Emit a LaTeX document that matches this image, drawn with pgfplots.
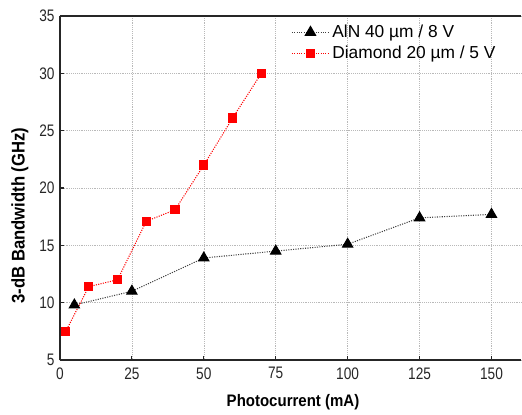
\documentclass[border=0pt]{standalone}
\usepackage{fontspec}
\setmainfont{Liberation Sans}
\usepackage{pgfplots}
\pgfplotsset{compat=1.18}

\begin{document}
\begin{tikzpicture}
  \begin{axis}[
    scale only axis,
    width=346pt, height=258pt,
    xmin=0, xmax=160.4, ymin=5, ymax=35,
    xtick={0,25,...,150}, ytick={5,10,...,35},
    axis y line=left,
    y axis line style={-},
    xtick pos=bottom, ytick pos=left,
    tick align=inside,
    major tick length=3pt,
    grid=major,
    grid style={densely dotted, gray!55},
    axis line style={line width=0.9pt, black!85},
    tick style={line width=0.8pt, black!85},
    /pgf/number format/assume math mode=true,
    ticklabel style={font=\fontsize{12.5}{14}\selectfont, text=black!85, xscale=0.82},
    xticklabel style={yshift=-2pt},
    yticklabel style={xshift=-1.5pt},
    xlabel={\textbf{Photocurrent (mA)}},
    ylabel={\textbf{3-dB Bandwidth (GHz)}},
    xlabel style={font=\fontsize{12.5}{14}\selectfont, xscale=0.9,
      at={(axis description cs:0.505,0)}, anchor=north, yshift=-22pt},
    ylabel style={font=\fontsize{12.5}{14}\selectfont, yscale=1.1,
      at={(axis description cs:-0.0867,0.42)}, anchor=center},
    legend style={draw=none, fill=none, at={(axis description cs:0.492,0.99)},
      anchor=north west, font=\fontsize{13}{15}\selectfont, row sep=1pt,
      /tikz/every even column/.append style={column sep=2pt}},
    legend cell align=left,
    legend image code/.code={%
      \draw[mark repeat=2, mark phase=2] plot coordinates {(0pt,0pt) (14pt,0pt) (28pt,0pt)};},
    extra description/.code={%
      \path (axis description cs:-0.13,-0.154) rectangle (axis description cs:1,1.0465);},
  ]
    \addplot[black!75, densely dotted, line width=0.8pt,
      mark=triangle*, mark size=4.4pt, mark options={solid, fill=black, draw=black}]
      coordinates {(5,9.8) (25,11) (50,13.9) (75,14.5) (100,15.1) (125,17.4) (150,17.7)};
    \addplot[red, densely dotted, line width=0.8pt,
      mark=square*, mark size=3.1pt, mark options={solid, fill=red, draw=red}]
      coordinates {(2,7.5) (10,11.4) (20,12) (30,17.1) (40,18.1) (50,22) (60,26.1) (70,30)};
    \legend{AlN 40 µm / 8 V, Diamond 20 µm / 5 V}
  \end{axis}
\end{tikzpicture}
\end{document}
